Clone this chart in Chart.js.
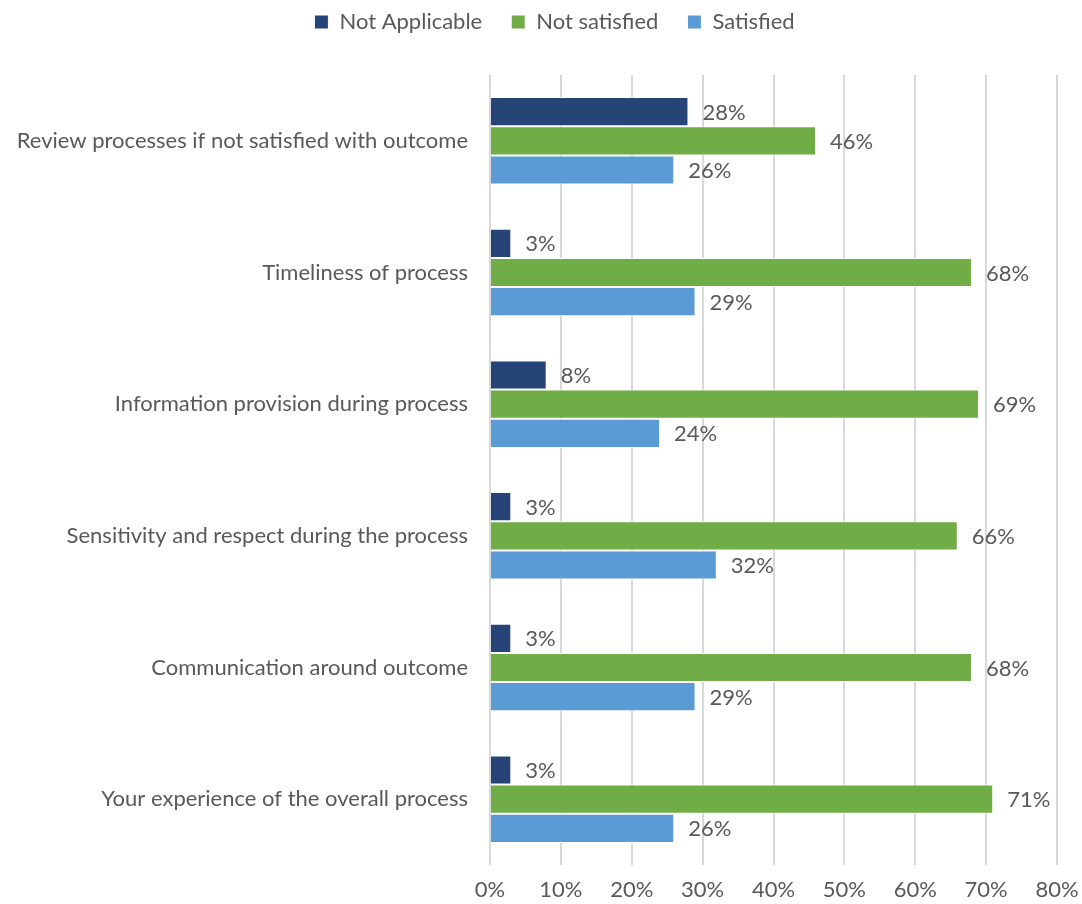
<!DOCTYPE html>
<html><head><meta charset="utf-8">
<script src="https://cdn.jsdelivr.net/npm/chart.js@4/dist/chart.umd.min.js"></script>
<style>html,body{margin:0;padding:0;background:#fff}#wrap{width:1082px;height:904px}</style>
</head><body><div id="wrap"><canvas id="c" width="1082" height="904"></canvas></div>
<script>
const categories = ["Review processes if not satisfied with outcome","Timeliness of process","Information provision during process","Sensitivity and respect during the process","Communication around outcome","Your experience of the overall process"];
const notApplicable = [28,3,8,3,3,3];
const notSatisfied = [46,68,69,66,68,71];
const satisfied = [26,29,24,32,29,26];
const xTicks = [0,10,20,30,40,50,60,70,80];

const FONT = "Lato, 'Open Sans', sans-serif";
const FS = 22;
const TXT = '#595959';

const labelPlugin = {
  id: 'barLabels',
  afterDatasetsDraw(chart) {
    const ctx = chart.ctx;
    ctx.save();
    ctx.font = FS + 'px ' + FONT;
    ctx.fillStyle = TXT;
    ctx.textBaseline = 'middle';
    ctx.textAlign = 'left';
    chart.data.datasets.forEach((ds, i) => {
      chart.getDatasetMeta(i).data.forEach((el, j) => {
        ctx.fillText(ds.data[j] + '%', el.x + 14, el.y + 1);
      });
    });
    ctx.restore();
  }
};

const legendFit = {
  id: 'legendFit',
  beforeInit(chart) {
    const lg = chart.legend;
    if (!lg) return;
    const f = lg.fit;
    lg.fit = function () { f.call(this); this.height = 93; };
  },
  afterLayout(chart) {
    const lg = chart.legend;
    if (!lg) return;
    lg.left += 22; lg.right += 22;
  }
};

function build() {
  new Chart(document.getElementById('c'), {
    type: 'bar',
    data: {
      labels: categories,
      datasets: [
        {label: 'Not Applicable', data: notApplicable, backgroundColor: '#264478', borderColor: '#ffffff', borderWidth: 1},
        {label: 'Not satisfied', data: notSatisfied, backgroundColor: '#70AD47', borderColor: '#ffffff', borderWidth: 1},
        {label: 'Satisfied', data: satisfied, backgroundColor: '#5B9BD5', borderColor: '#ffffff', borderWidth: 1}
      ]
    },
    options: {
      indexAxis: 'y',
      responsive: false,
      animation: false,
      layout: {padding: {left: 8, right: 25, top: -18, bottom: 0}},
      datasets: {bar: {categoryPercentage: 0.665, barPercentage: 1.0}},
      plugins: {
        legend: {
          position: 'top',
          labels: {font: {family: FONT, size: FS}, color: TXT, boxWidth: 14, boxHeight: 14, padding: 29},
          onClick: null
        },
        tooltip: {enabled: false}
      },
      scales: {
        x: {
          min: 0, max: 80,
          afterBuildTicks(s) { s.ticks = xTicks.map(v => ({value: v})); },
          ticks: {callback: v => v + '%', font: {family: FONT, size: FS}, color: TXT, padding: 12},
          grid: {color: '#d9d9d9', lineWidth: 2, drawTicks: false},
          border: {display: false},
          afterFit(s) { s.paddingLeft = 0; s.paddingRight = 0; s.height = 39; }
        },
        y: {
          ticks: {font: {family: FONT, size: FS}, color: TXT, padding: 14, autoSkip: false},
          grid: {display: false},
          border: {display: false},
          afterFit(s) { s.width = 482; s.paddingTop = 0; s.paddingBottom = 0; }
        }
      }
    },
    plugins: [labelPlugin, legendFit]
  });
}

if (document.fonts && document.fonts.load) {
  Promise.all([document.fonts.load(FS + 'px Lato', 'Not satisfied 0123456789%')]).then(build, build);
} else { build(); }
</script></body></html>
